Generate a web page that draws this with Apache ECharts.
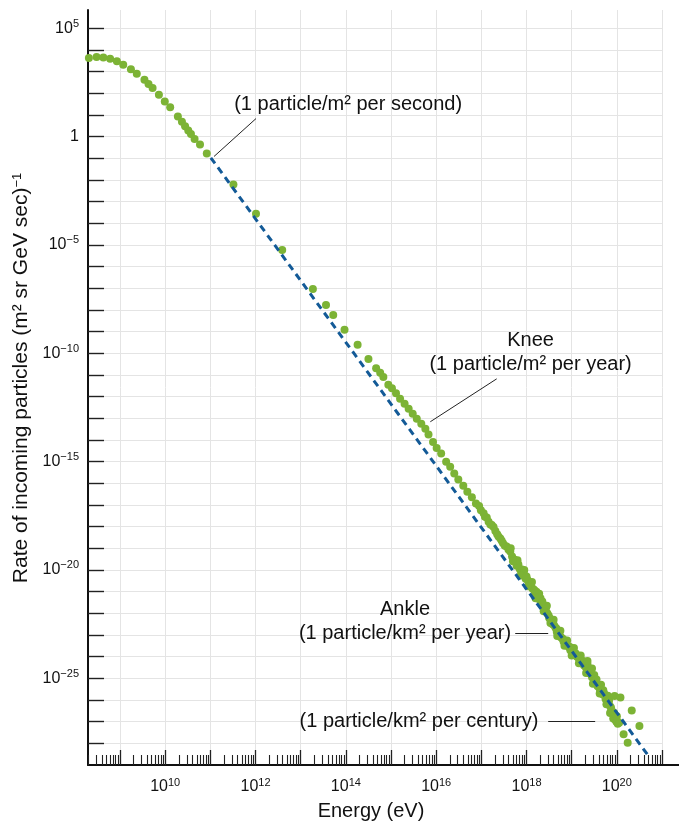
<!DOCTYPE html>
<html>
<head>
<meta charset="utf-8">
<script src="https://cdn.jsdelivr.net/npm/echarts@6/dist/echarts.min.js"></script>
<style>
  html, body { margin: 0; padding: 0; background: #fff; }
  #chart { width: 684px; height: 826px; }
</style>
</head>
<body>
<div id="chart"></div>
<script>
const FONT = "'Liberation Sans', Arial, sans-serif";
const INK = "#111";

// measured points, as log10(energy in eV) and log10(rate)
const logEnergy = [
  8.31, 8.48, 8.63, 8.78, 8.93, 9.07, 9.24, 9.37, 9.54, 9.63, 9.72, 9.86, 9.99,
  10.11, 10.28, 10.37, 10.44, 10.51, 10.57, 10.65, 10.77, 10.92,
  11.51, 12.01, 12.59, 13.27, 13.56, 13.72, 13.97, 14.26, 14.50, 14.67, 14.76, 14.83, 14.94,
  15.02, 15.11, 15.20, 15.30, 15.39, 15.48, 15.57, 15.67, 15.76, 15.83, 15.93,
  16.01, 16.11, 16.22, 16.31, 16.40, 16.49, 16.60, 16.69, 16.79, 16.88, 16.99,
  17.08, 17.16, 17.23, 17.31, 17.38, 17.48, 17.56, 17.12, 17.27, 17.42, 17.52,
  16.95, 17.05, 17.20, 17.35, 17.45,
  17.60, 17.64, 17.68, 17.72, 17.75, 17.78, 17.82, 17.85, 17.88, 17.90, 17.93, 17.96, 17.98,
  18.02, 18.05, 18.08, 18.10, 18.13, 18.16, 18.19, 18.22, 18.25, 18.28, 18.31, 18.34, 18.37,
  18.40, 18.43, 18.46, 18.49, 18.52, 18.55, 18.58, 18.61, 18.64, 18.67, 18.70, 18.73, 18.76,
  18.79, 18.82, 18.85, 18.88, 18.91, 18.94, 18.97, 19.00, 19.03, 19.06, 19.09, 19.12, 19.15,
  19.18, 19.21, 19.24, 19.27, 19.30, 19.33, 19.36, 19.39, 19.42, 19.45, 19.48, 19.51, 19.54,
  19.57, 19.60, 19.63, 19.66, 19.69, 19.72, 19.75, 19.78, 19.81, 19.84, 19.87, 19.90, 19.93,
  19.96, 19.99, 20.02, 19.85, 19.92, 20.00, 20.05,
  17.65, 17.80, 17.95, 18.12, 18.28, 18.45, 18.60, 18.75, 18.90, 19.05, 19.20, 19.35, 19.50, 19.65, 19.80,
  17.70, 17.87, 18.03, 18.20, 18.38, 18.53, 18.68, 18.84, 19.00, 19.16, 19.32, 19.47, 19.62, 19.77,
  18.00, 18.18, 18.35, 18.50, 18.66, 18.81, 18.96, 19.10, 19.25, 19.40, 19.55, 19.70, 19.83, 19.88, 19.94, 20.00,
  19.35, 19.45,
  19.95, 20.08, 20.33, 20.50, 20.15, 20.24,
];
const logRate = [
  3.62, 3.67, 3.65, 3.59, 3.47, 3.31, 3.11, 2.90, 2.62, 2.43, 2.24, 1.93, 1.62,
  1.35, 0.93, 0.68, 0.47, 0.28, 0.12, -0.11, -0.37, -0.78,
  -2.21, -3.56, -5.23, -7.04, -7.77, -8.23, -8.91, -9.61, -10.26, -10.69, -10.90, -11.10, -11.45,
  -11.61, -11.84, -12.10, -12.33, -12.56, -12.79, -13.02, -13.25, -13.48, -13.75, -14.09,
  -14.37, -14.63, -15.01, -15.24, -15.55, -15.82, -16.11, -16.39, -16.65, -16.93, -17.24,
  -17.54, -17.77, -17.93, -18.20, -18.46, -18.77, -18.92, -17.58, -18.02, -18.55, -18.88,
  -17.05, -17.38, -17.90, -18.35, -18.65,
  -19.05, -19.15, -19.38, -19.50, -19.55, -19.80, -19.75, -19.95, -20.05, -19.98, -20.20, -20.25, -20.40,
  -20.45, -20.55, -20.70, -20.62, -20.85, -20.90, -21.05, -21.00, -21.20, -21.35, -21.30, -21.55, -21.60,
  -21.80, -21.75, -22.00, -22.10, -22.25, -22.30, -22.50, -22.55, -22.65, -22.85, -22.80, -23.00, -23.10,
  -23.15, -23.30, -23.25, -23.45, -23.50, -23.55, -23.70, -23.65, -23.80, -23.90, -23.85, -24.00, -24.05,
  -24.20, -24.15, -24.30, -24.40, -24.45, -24.55, -24.60, -24.75, -24.80, -24.95, -25.00, -25.15, -25.20,
  -25.35, -25.40, -25.55, -25.60, -25.75, -25.70, -25.95, -26.00, -26.10, -26.25, -26.35, -26.55, -26.70,
  -26.90, -27.00, -27.10, -26.60, -26.85, -26.95, -27.05,
  -19.00, -19.55, -20.00, -20.55, -21.10, -21.65, -22.30, -22.80, -23.25, -23.60, -23.95, -24.35, -24.85, -25.30, -25.80,
  -19.60, -20.25, -20.75, -21.30, -21.90, -22.45, -23.05, -23.50, -23.95, -24.30, -24.75, -25.25, -25.70, -26.20,
  -20.30, -20.95, -21.45, -22.20, -22.70, -23.20, -23.55, -23.95, -24.20, -24.65, -25.05, -25.55, -26.00, -26.45, -26.60, -26.75,
  -24.20, -24.55,
  -25.82, -25.88, -26.48, -27.20, -27.58, -27.97,
];

// dashed power-law line
const fitLogEnergy = [11.01, 20.7];
const fitLogRate = [-0.98, -28.58];

// tick labels (exponents)
const xLabelExps = [10, 12, 14, 16, 18, 20];
const yLabelExps = [5, 0, -5, -10, -15, -20, -25];

// annotations
const noteText = [
  "(1 particle/m² per second)",
  "Knee\n(1 particle/m² per year)",
  "Ankle\n(1 particle/km² per year)",
  "(1 particle/km² per century)",
];
const noteLogEnergy = [14.05, 18.09, 15.31, 15.62];
const noteLogRate = [1.5, -9.96, -22.37, -27.0];
const leaderFrom = [[12.01, 0.83], [17.34, -11.18], [17.75, -22.91], [18.48, -27.0]];
const leaderTo = [[11.08, -0.92], [15.87, -13.16], [18.48, -22.91], [19.52, -27.0]];

const xMin = 8.29, xMax = 21;
const yMin = -29, yMax = 5.84;

function powerLabel(exp) {
  if (exp === 0) return "{b|1}";
  return "{b|10}{s|" + String(exp).replace("-", "\u2212") + "}";
}

const powerRich = {
  b: { fontFamily: FONT, fontSize: 16, lineHeight: 20, color: INK },
  s: { fontFamily: FONT, fontSize: 11, lineHeight: 8, verticalAlign: "top", color: INK },
};

function range(a, b) {
  const out = [];
  for (let i = a; i <= b; i++) out.push(i);
  return out;
}

const xMajor = range(9, 21);
const xMinor = [];
range(8, 20).forEach((n) => {
  for (let k = 2; k <= 9; k++) {
    const v = n + Math.log10(k);
    if (v >= xMin && v <= xMax) xMinor.push(v);
  }
});
const yTicks = range(-28, 5);

const chart = echarts.init(document.getElementById("chart"));

chart.setOption({
  animation: false,
  textStyle: { fontFamily: FONT },
  grid: { left: 88, right: 22, top: 10, bottom: 59 },
  xAxis: [
    {
      type: "value",
      min: xMin,
      max: xMax,
      position: "bottom",
      name: "Energy (eV)",
      nameLocation: "middle",
      nameGap: 36,
      nameTextStyle: { fontFamily: FONT, fontSize: 20, color: INK, padding: [0, 8, 0, 0] },
      axisLine: {
        show: true,
        onZero: false,
        lineStyle: { color: "#111", width: 2 },
        symbol: ["none", "rect"],
        symbolSize: [2, 34],
      },
      axisTick: {
        show: true, inside: true, length: 15, customValues: xMajor,
        lineStyle: { color: "#222", width: 1.3 },
      },
      axisLabel: {
        customValues: xLabelExps, margin: 12,
        formatter: (v) => powerLabel(Math.round(v)),
        rich: powerRich,
      },
      splitLine: { show: true, lineStyle: { color: "#e4e4e4", width: 1 } },
    },
    {
      type: "value",
      min: xMin,
      max: xMax,
      position: "bottom",
      axisLine: { show: false, onZero: false },
      axisTick: {
        show: true, inside: true, length: 10, customValues: xMinor,
        lineStyle: { color: "#222", width: 1.1 },
      },
      axisLabel: { show: false },
      splitLine: { show: false },
    },
  ],
  yAxis: {
    type: "value",
    min: yMin,
    max: yMax,
    name: "{a|Rate of incoming particles (m² sr GeV sec)}{s|\u22121}",
    nameLocation: "middle",
    nameGap: 55,
    nameTextStyle: {
      padding: [0, 0, 0, 19],
      rich: {
        a: { fontFamily: FONT, fontSize: 21, color: INK },
        s: { fontFamily: FONT, fontSize: 13, lineHeight: 10, verticalAlign: "top", color: INK },
      },
    },
    axisLine: { show: true, onZero: false, lineStyle: { color: "#111", width: 2 } },
    axisTick: {
      show: true, inside: true, length: 16, customValues: yTicks,
      lineStyle: { color: "#222", width: 1.4 },
    },
    axisLabel: {
      customValues: yLabelExps, margin: 9,
      formatter: (v) => powerLabel(Math.round(v)),
      rich: powerRich,
    },
    splitLine: { show: true, lineStyle: { color: "#e4e4e4", width: 1 } },
  },
  series: [
    {
      name: "data",
      type: "scatter",
      symbolSize: 8,
      itemStyle: { color: "#7cb335", opacity: 1 },
      data: logEnergy.map((e, i) => [e, logRate[i]]),
      z: 2,
    },
    {
      name: "fit",
      type: "line",
      showSymbol: false,
      lineStyle: { color: "#135a97", width: 3, type: [7, 5] },
      data: fitLogEnergy.map((e, i) => [e, fitLogRate[i]]),
      z: 3,
    },
    {
      name: "leaders",
      type: "lines",
      coordinateSystem: "cartesian2d",
      lineStyle: { color: "#222", width: 1, opacity: 1 },
      data: leaderFrom.map((p, i) => ({ coords: [p, leaderTo[i]] })),
      z: 4,
      silent: true,
    },
    {
      name: "notes",
      type: "scatter",
      symbolSize: 0,
      silent: true,
      label: {
        show: true,
        position: "inside",
        formatter: (p) => noteText[p.dataIndex],
        fontFamily: FONT,
        fontSize: 20,
        lineHeight: 24,
        align: "center",
        color: INK,
        opacity: 1,
        textBorderWidth: 0,
      },
      data: noteLogEnergy.map((e, i) => [e, noteLogRate[i]]),
      z: 5,
    },
  ],
});
</script>
</body>
</html>
